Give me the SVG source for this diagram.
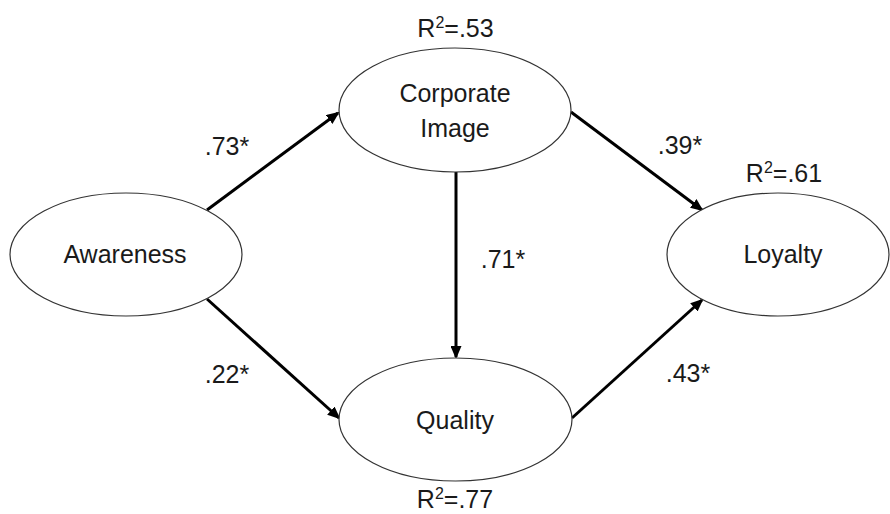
<svg xmlns="http://www.w3.org/2000/svg" width="890" height="514" viewBox="0 0 890 514">
<style>
.node ellipse{fill:#fff;stroke:#333;stroke-width:1.2}
text{font-family:"Liberation Sans",Arial,sans-serif;font-size:25px;fill:#1a1a1a;text-anchor:middle}
.sup{font-size:16px}
.conn line{stroke:#000;stroke-width:3}
</style>
<defs>
<marker id="ah" markerUnits="userSpaceOnUse" markerWidth="13" markerHeight="11" refX="11" refY="5.5" orient="auto">
<path d="M0,0 L13,5.5 L0,11 Z" fill="#000"/>
</marker>
</defs>
<rect width="890" height="514" fill="#fff"/>
<g id="connectors" class="conn">
<line x1="207" y1="210" x2="338" y2="113" marker-end="url(#ah)"/>
<line x1="207" y1="299" x2="339" y2="418" marker-end="url(#ah)"/>
<line x1="456" y1="172" x2="456" y2="357" marker-end="url(#ah)"/>
<line x1="571" y1="112" x2="702" y2="210" marker-end="url(#ah)"/>
<line x1="572" y1="418" x2="702" y2="300" marker-end="url(#ah)"/>
</g>
<g id="awareness" class="node">
<ellipse cx="126" cy="254.5" rx="116" ry="61.5"/>
<text x="125" y="263">Awareness</text>
</g>
<g id="corporate-image" class="node">
<ellipse cx="455" cy="110" rx="116" ry="62"/>
<text x="455" y="102">Corporate</text>
<text x="455" y="137">Image</text>
<text x="455.5" y="37">R<tspan class="sup" dy="-9">2</tspan><tspan dy="9">=.53</tspan></text>
</g>
<g id="quality" class="node">
<ellipse cx="455.5" cy="419.5" rx="116.5" ry="61.5"/>
<text x="455" y="429">Quality</text>
<text x="455" y="508">R<tspan class="sup" dy="-9">2</tspan><tspan dy="9">=.77</tspan></text>
</g>
<g id="loyalty" class="node">
<ellipse cx="778" cy="254.5" rx="111" ry="61.5"/>
<text x="783" y="263">Loyalty</text>
<text x="784" y="182">R<tspan class="sup" dy="-9">2</tspan><tspan dy="9">=.61</tspan></text>
</g>
<g id="labels">
<text x="227" y="155">.73*</text>
<text x="227" y="383">.22*</text>
<text x="503" y="268">.71*</text>
<text x="680" y="154">.39*</text>
<text x="688" y="382">.43*</text>
</g>
</svg>
